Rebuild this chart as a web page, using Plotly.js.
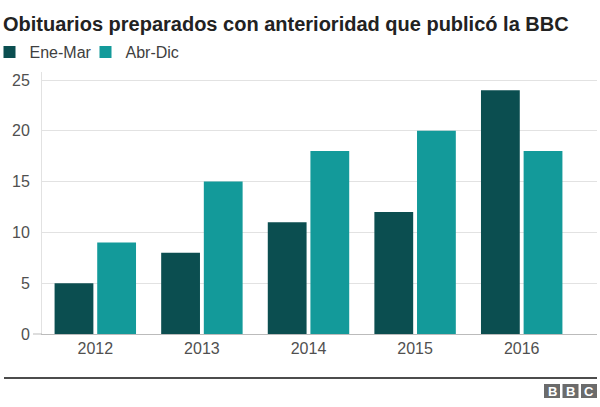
<!DOCTYPE html>
<html>
<head>
<meta charset="utf-8">
<script src="https://cdn.plot.ly/plotly-3.0.1.min.js"></script>
<style>html,body{margin:0;padding:0;background:#fff;}#chart{width:600px;height:407px;}</style>
</head>
<body>
<div id="chart"></div>
<script>
const years = ['2012', '2013', '2014', '2015', '2016'];
const eneMar = [5, 8, 11, 12, 24];
const abrDic = [9, 15, 18, 20, 18];
const seriesNames = ['Ene-Mar', 'Abr-Dic'];
const yTicks = [0, 5, 10, 15, 20, 25];

const W = 600, H = 407;
const M = {l: 42, r: 3, t: 72, b: 73, autoexpand: false};
const PW = W - M.l - M.r, PH = H - M.t - M.b;
const px = x => (x - M.l) / PW;
const py = y => (H - M.b - y) / PH;

const FONT = 'Liberation Sans, Arial, Helvetica, sans-serif';

const traces = [
  {type: 'bar', name: seriesNames[0], x: years, y: eneMar, marker: {color: '#0b4e50'}, hoverinfo: 'skip'},
  {type: 'bar', name: seriesNames[1], x: years, y: abrDic, marker: {color: '#139a9a'}, hoverinfo: 'skip'}
];

const logo = ['B', 'B', 'C'];
const shapes = [
  {type: 'line', xref: 'paper', yref: 'paper', x0: px(4), x1: px(597), y0: py(378), y1: py(378), line: {color: '#111', width: 1.5}},
  {type: 'line', xref: 'paper', yref: 'paper', x0: px(33), x1: px(42), y0: 0, y1: 0, line: {color: '#bbbbbb', width: 1}}
];
const annotations = [];
logo.forEach((ch, i) => {
  const x0 = 544 + i * 18.5;
  shapes.push({type: 'rect', xref: 'paper', yref: 'paper', x0: px(x0), x1: px(x0 + 16), y0: py(398), y1: py(384), fillcolor: '#6b6b6b', line: {width: 0}});
  annotations.push({xref: 'paper', yref: 'paper', x: px(x0 + 8), y: py(391), text: '<b>' + ch + '</b>', showarrow: false, xanchor: 'center', yanchor: 'middle', font: {family: FONT, size: 13, color: '#ffffff'}});
});

const layout = {
  width: W, height: H,
  margin: M,
  paper_bgcolor: '#ffffff', plot_bgcolor: '#ffffff',
  title: {
    text: '<b>Obituarios preparados con anterioridad que publicó la BBC</b>',
    xref: 'container', yref: 'container', x: 3 / W, xanchor: 'left', y: 1 - 24 / H, yanchor: 'middle',
    font: {family: FONT, size: 20, color: '#222222'}
  },
  showlegend: true,
  legend: {
    orientation: 'h', xref: 'paper', yref: 'paper', x: px(-10.5), xanchor: 'left', y: py(52), yanchor: 'middle',
    font: {family: FONT, size: 16, color: '#404040'}, itemwidth: 30, entrywidth: 51, traceorder: 'normal',
    itemclick: false, itemdoubleclick: false
  },
  barmode: 'group', bargap: 0.2, bargroupgap: 0.09,
  xaxis: {
    type: 'category', range: [-0.5, -0.5 + PW / 106.6], showgrid: false, zeroline: false,
    showline: true, linecolor: '#bbbbbb', linewidth: 1, ticks: '',
    tickfont: {family: FONT, size: 16, color: '#505050'}, fixedrange: true, automargin: false
  },
  yaxis: {
    range: [0, 25 + 8 / 10.16], tickvals: yTicks, ticktext: yTicks.map(String),
    showgrid: true, gridcolor: '#e2e2e2', gridwidth: 1, zeroline: false,
    showline: true, linecolor: '#e2e2e2', linewidth: 1, ticks: '', ticklabelstandoff: 8,
    tickfont: {family: FONT, size: 16, color: '#505050'}, fixedrange: true, automargin: false
  },
  shapes: shapes,
  annotations: annotations
};

Plotly.newPlot('chart', traces, layout, {displayModeBar: false, staticPlot: true});
</script>
</body>
</html>
